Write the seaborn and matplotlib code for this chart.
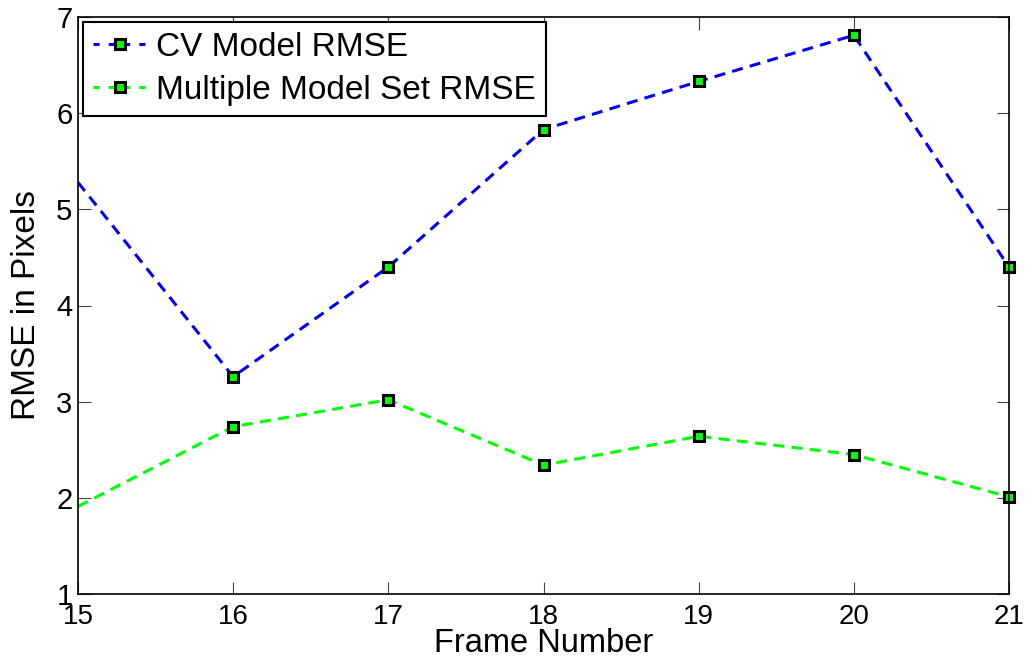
import matplotlib
matplotlib.use("Agg")
import matplotlib.pyplot as plt
import seaborn as sns
import pandas as pd

frames = [15, 16, 17, 18, 19, 20, 21]
cv_rmse = [5.28, 3.26, 4.40, 5.83, 6.33, 6.81, 4.40]
mm_rmse = [1.91, 2.74, 3.02, 2.34, 2.64, 2.45, 2.01]
series_names = ["CV Model RMSE", "Multiple Model Set RMSE"]
x_label = "Frame Number"
y_label = "RMSE in Pixels"
x_ticks = [15, 16, 17, 18, 19, 20, 21]
y_ticks = [1, 2, 3, 4, 5, 6, 7]

sns.set_style("white")
plt.rcParams["font.family"] = ["Liberation Sans", "DejaVu Sans"]
plt.rcParams["text.color"] = "black"
plt.rcParams["axes.labelcolor"] = "black"
plt.rcParams["xtick.color"] = "black"
plt.rcParams["ytick.color"] = "black"

fig = plt.figure(figsize=(10.34, 6.61), dpi=100)
ax = fig.add_axes([78 / 1034, 1 - 594 / 661, (1009 - 78) / 1034, (594 - 17) / 661])

df_cv = pd.DataFrame({"frame": frames, "rmse": cv_rmse})
df_mm = pd.DataFrame({"frame": frames, "rmse": mm_rmse})

common = dict(marker="s", markersize=7.5, markerfacecolor="#00ff00",
              markeredgecolor="black", markeredgewidth=2.2,
              linewidth=2.2, markevery=slice(1, None), clip_on=False)

sns.lineplot(data=df_cv, x="frame", y="rmse", ax=ax, color="#0000ff",
             label=series_names[0], dashes=False, **common)
sns.lineplot(data=df_mm, x="frame", y="rmse", ax=ax, color="#00ff00",
             label=series_names[1], dashes=False, **common)
for ln in ax.get_lines():
    ln.set_linestyle((0, (3.6, 2.4)))

ax.set_xlim(15, 21)
ax.set_ylim(1, 7)
ax.set_xticks(x_ticks)
ax.set_yticks(y_ticks)
ax.set_xlabel(x_label, fontsize=23.5, labelpad=-1)
ax.set_ylabel(y_label, fontsize=24, labelpad=10)
ax.tick_params(axis="both", which="both", direction="in", length=9, width=0.8,
               color="#444444", labelcolor="black", labelsize=21, top=True,
               right=True, bottom=True, left=True, pad=4)
ax.tick_params(axis="x", pad=7, labelsize=20)
for sp in ax.spines.values():
    sp.set_visible(True)
    sp.set_color("black")
    sp.set_linewidth(1.2)

leg = ax.legend(loc="upper left", fontsize=24, frameon=True, fancybox=False,
                edgecolor="black", framealpha=1, handlelength=1.6,
                handletextpad=0.3, borderpad=0.3, labelspacing=0.35,
                borderaxespad=0.15)
leg.get_frame().set_linewidth(1.5)
for t in leg.get_texts():
    t.set_color("black")
for h in leg.legend_handles:
    h.set_markevery([1])
    h.set_linestyle((0, (2.0, 3.0)))

fig.savefig("out.png", dpi=100)
